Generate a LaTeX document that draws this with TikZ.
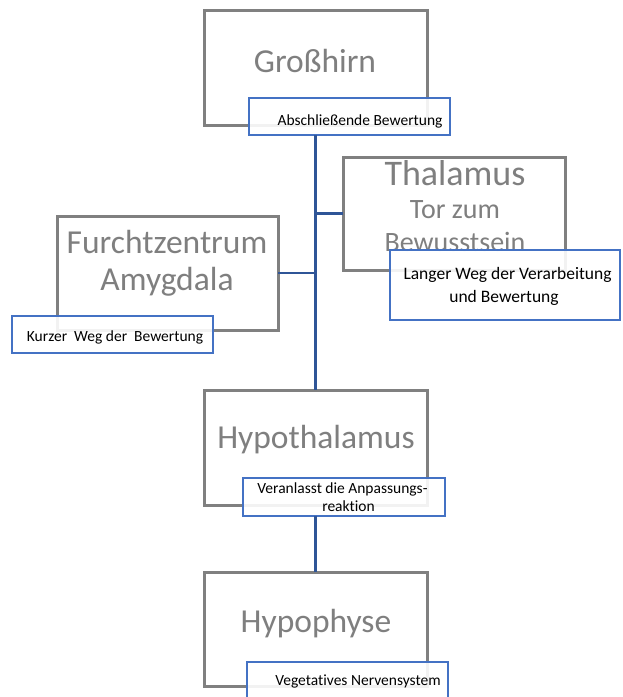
\documentclass[tikz,border=0pt]{standalone}
\usepackage{fontspec}
\setmainfont[Ligatures={NoCommon}]{Carlito}
\definecolor{boxgray}{HTML}{808080}
\definecolor{txtgray}{HTML}{7F7F7F}
\definecolor{lblblue}{HTML}{4472C4}
\definecolor{conblue}{HTML}{2F5597}
\begin{document}
\begin{tikzpicture}[x=1pt,y=-1pt,
  boxstyle/.style={draw=boxgray,line width=3pt,inner sep=0pt,outer sep=0pt,rectangle},
  lblstyle/.style={draw=lblblue,line width=2pt,fill=white,fill opacity=0.9,text opacity=1,inner sep=0pt,outer sep=0pt,rectangle},
  bigtext/.style={text=txtgray,font=\fontsize{33.5}{38}\selectfont,anchor=base,inner sep=0pt},
  midtext/.style={text=txtgray,font=\fontsize{28}{33}\selectfont,anchor=base,inner sep=0pt},
  smalltext/.style={text=black,font=\fontsize{15.5}{18}\selectfont,anchor=base,inner sep=0pt},
  con/.style={draw=conblue,line width=2.4pt}]
\clip (0,0) rectangle (622,697);
\fill[white] (0,0) rectangle (622,697);
% boxes
\node[boxstyle,minimum width=223pt,minimum height=115pt] (gh) at (315.5,67.5) {};
\node[boxstyle,minimum width=222pt,minimum height=113pt] (th) at (454,213.5) {};
\node[boxstyle,minimum width=221pt,minimum height=114pt] (am) at (167.5,273) {};
\node[boxstyle,minimum width=223pt,minimum height=115pt] (hy) at (315.5,447.5) {};
\node[boxstyle,minimum width=223pt,minimum height=114pt] (hp) at (315.5,629) {};
% big texts
\node[bigtext] (ght) at (315,72) {Großhirn};
\node[bigtext,font=\fontsize{36}{40}\selectfont] (tht1) at (455,185) {Thalamus};
\node[midtext] (tht2) at (455,218) {Tor zum};
\node[midtext] (tht3) at (455,251) {Bewusstsein};
\node[bigtext] (amt1) at (167,253) {Furchtzentrum};
\node[bigtext] (amt2) at (167,290) {Amygdala};
\node[bigtext] (hyt) at (316,448) {Hypothalamus};
\node[bigtext] (hpt) at (316,632) {Hypophyse};
% connectors
\node[lblstyle,minimum width=201pt,minimum height=37pt] (ghl) at (349.5,116.5) {};
\draw[con] (ghl.south -| hy.north) -- (hy.north);
\draw[con] (th.west) -- (th.west -| hy.north);
\draw[con] (am.east) -- (am.east -| hy.north);
% labels
\node[lblstyle,minimum width=230pt,minimum height=70pt] (thl) at (505,285) {};
\node[lblstyle,minimum width=201pt,minimum height=37pt] (aml) at (112.5,334.5) {};
\node[lblstyle,minimum width=202pt,minimum height=38pt] (hyl) at (344,497) {};
\draw[con] (hyl.south -| hp.north) -- (hp.north);
\node[lblstyle,minimum width=201pt,minimum height=48pt] (hpl) at (347.5,686) {};
% label texts
\node[smalltext] (ghlt) at (360,125) {Abschließende Bewertung};
\node[smalltext,font=\fontsize{17.5}{21}\selectfont] (thlt1) at (507.5,279) {Langer Weg der Verarbeitung};
\node[smalltext,font=\fontsize{17.5}{21}\selectfont] (thlt2) at (504,302) {und Bewertung};
\node[smalltext] (amlt) at (115,341) {Kurzer~ Weg der~ Bewertung};
\node[smalltext] (hylt1) at (342.5,493) {Veranlasst die Anpassungs-};
\node[smalltext] (hylt2) at (348.5,511) {reaktion};
\node[smalltext] (hplt) at (358,685) {Vegetatives Nervensystem};
\end{tikzpicture}
\end{document}
